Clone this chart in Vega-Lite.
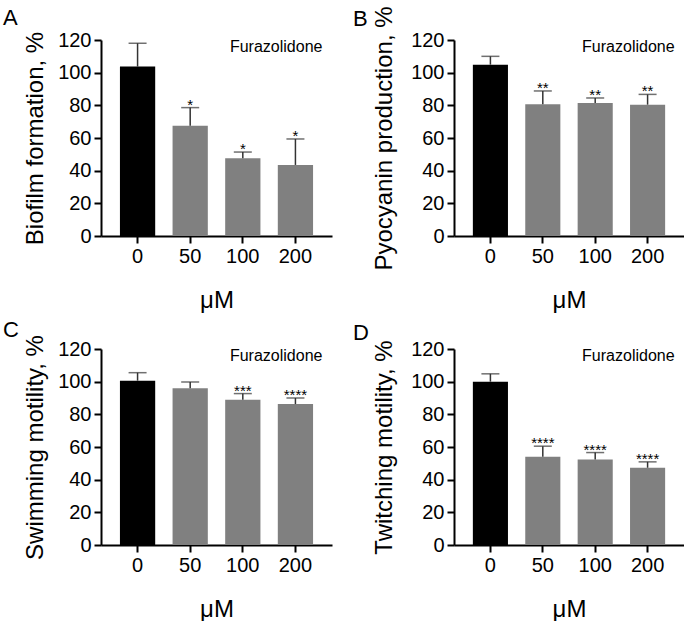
{
  "$schema": "https://vega.github.io/schema/vega-lite/v6.json",
  "background": "white",
  "padding": {"left": 3, "top": 5, "right": 0, "bottom": 0},
  "spacing": 6,
  "config": {
    "font": "Liberation Sans",
    "view": {"stroke": null},
    "axis": {
      "grid": false,
      "domainColor": "black",
      "domainWidth": 2,
      "tickColor": "black",
      "tickWidth": 2,
      "tickSize": 7,
      "labelFontSize": 20,
      "labelColor": "black",
      "labelPadding": 3,
      "labelOverlap": false,
      "titleFontSize": 24,
      "titleFontWeight": "normal",
      "titleColor": "black"
    },
    "axisX": {"titlePadding": 22, "labelAngle": 0},
    "axisY": {"titlePadding": 10, "tickCount": 10},
    "title": {"fontSize": 22, "fontWeight": "normal", "color": "black", "anchor": "start", "frame": "group"}
  },
  "data": {
    "values": [
      {"panel": "A", "dose": "0", "mean": 103.7, "upper": 118.0, "sig": ""},
      {"panel": "A", "dose": "50", "mean": 67.5, "upper": 78.6, "sig": "*"},
      {"panel": "A", "dose": "100", "mean": 47.6, "upper": 51.4, "sig": "*"},
      {"panel": "A", "dose": "200", "mean": 43.5, "upper": 59.4, "sig": "*"},
      {"panel": "B", "dose": "0", "mean": 104.9, "upper": 110.0, "sig": ""},
      {"panel": "B", "dose": "50", "mean": 80.6, "upper": 88.8, "sig": "**"},
      {"panel": "B", "dose": "100", "mean": 81.4, "upper": 84.5, "sig": "**"},
      {"panel": "B", "dose": "200", "mean": 80.4, "upper": 86.7, "sig": "**"},
      {"panel": "C", "dose": "0", "mean": 100.6, "upper": 105.5, "sig": ""},
      {"panel": "C", "dose": "50", "mean": 96.0, "upper": 99.8, "sig": ""},
      {"panel": "C", "dose": "100", "mean": 89.0, "upper": 92.7, "sig": "***"},
      {"panel": "C", "dose": "200", "mean": 86.3, "upper": 90.0, "sig": "****"},
      {"panel": "D", "dose": "0", "mean": 100.0, "upper": 104.8, "sig": ""},
      {"panel": "D", "dose": "50", "mean": 54.0, "upper": 60.5, "sig": "****"},
      {"panel": "D", "dose": "100", "mean": 52.4, "upper": 56.6, "sig": "****"},
      {"panel": "D", "dose": "200", "mean": 47.3, "upper": 50.9, "sig": "****"}
    ]
  },
  "vconcat": [
    {
      "spacing": 21,
      "hconcat": [
        {
          "width": 231, "height": 196,
          "title": {"text": "A", "dx": -98, "offset": 0},
          "transform": [{"filter": "datum.panel === 'A'"}],
          "encoding": {
            "x": {"field": "dose", "type": "ordinal", "sort": ["0", "50", "100", "200"], "scale": {"paddingInner": 0.33, "paddingOuter": 0.36}, "axis": {"title": "μM"}}
          },
          "layer": [
            {"mark": {"type": "bar"}, "encoding": {
              "y": {"field": "mean", "type": "quantitative", "scale": {"domain": [0, 120]}, "axis": {"title": "Biofilm formation, %", "values": [0, 20, 40, 60, 80, 100, 120]}},
              "color": {"field": "dose", "type": "nominal", "scale": {"domain": ["0", "50", "100", "200"], "range": ["#000000", "#808080", "#808080", "#808080"]}, "legend": null}}},
            {"mark": {"type": "rule", "color": "#333333", "strokeWidth": 1.5}, "encoding": {"y": {"field": "mean", "type": "quantitative"}, "y2": {"field": "upper"}}},
            {"mark": {"type": "tick", "orient": "horizontal", "size": 18, "thickness": 1.5, "color": "#333333"}, "encoding": {"y": {"field": "upper", "type": "quantitative"}}},
            {"mark": {"type": "text", "fontSize": 15, "baseline": "alphabetic", "dy": 2, "color": "black"}, "encoding": {"y": {"field": "upper", "type": "quantitative"}, "text": {"field": "sig"}}},
            {"transform": [{"filter": "datum.dose === '200'"}], "mark": {"type": "text", "fontSize": 16, "align": "right", "baseline": "top", "dx": 27, "dy": -1, "color": "black"}, "encoding": {"y": {"datum": 120, "type": "quantitative"}, "text": {"value": "Furazolidone"}}}
          ]
        },
        {
          "width": 230, "height": 196,
          "title": {"text": "B", "dx": -101, "offset": -25},
          "transform": [{"filter": "datum.panel === 'B'"}],
          "encoding": {
            "x": {"field": "dose", "type": "ordinal", "sort": ["0", "50", "100", "200"], "scale": {"paddingInner": 0.33, "paddingOuter": 0.36}, "axis": {"title": "μM"}}
          },
          "layer": [
            {"mark": {"type": "bar"}, "encoding": {
              "y": {"field": "mean", "type": "quantitative", "scale": {"domain": [0, 120]}, "axis": {"title": "Pyocyanin production, %", "titlePadding": 14, "values": [0, 20, 40, 60, 80, 100, 120]}},
              "color": {"field": "dose", "type": "nominal", "scale": {"domain": ["0", "50", "100", "200"], "range": ["#000000", "#808080", "#808080", "#808080"]}, "legend": null}}},
            {"mark": {"type": "rule", "color": "#333333", "strokeWidth": 1.5}, "encoding": {"y": {"field": "mean", "type": "quantitative"}, "y2": {"field": "upper"}}},
            {"mark": {"type": "tick", "orient": "horizontal", "size": 18, "thickness": 1.5, "color": "#333333"}, "encoding": {"y": {"field": "upper", "type": "quantitative"}}},
            {"mark": {"type": "text", "fontSize": 15, "baseline": "alphabetic", "dy": 2, "color": "black"}, "encoding": {"y": {"field": "upper", "type": "quantitative"}, "text": {"field": "sig"}}},
            {"transform": [{"filter": "datum.dose === '200'"}], "mark": {"type": "text", "fontSize": 16, "align": "right", "baseline": "top", "dx": 27, "dy": -1, "color": "black"}, "encoding": {"y": {"datum": 120, "type": "quantitative"}, "text": {"value": "Furazolidone"}}}
          ]
        }
      ]
    },
    {
      "spacing": 21,
      "hconcat": [
        {
          "width": 231, "height": 196,
          "title": {"text": "C", "dx": -98, "offset": -7},
          "transform": [{"filter": "datum.panel === 'C'"}],
          "encoding": {
            "x": {"field": "dose", "type": "ordinal", "sort": ["0", "50", "100", "200"], "scale": {"paddingInner": 0.33, "paddingOuter": 0.36}, "axis": {"title": "μM"}}
          },
          "layer": [
            {"mark": {"type": "bar"}, "encoding": {
              "y": {"field": "mean", "type": "quantitative", "scale": {"domain": [0, 120]}, "axis": {"title": "Swimming motility, %", "values": [0, 20, 40, 60, 80, 100, 120]}},
              "color": {"field": "dose", "type": "nominal", "scale": {"domain": ["0", "50", "100", "200"], "range": ["#000000", "#808080", "#808080", "#808080"]}, "legend": null}}},
            {"mark": {"type": "rule", "color": "#333333", "strokeWidth": 1.5}, "encoding": {"y": {"field": "mean", "type": "quantitative"}, "y2": {"field": "upper"}}},
            {"mark": {"type": "tick", "orient": "horizontal", "size": 18, "thickness": 1.5, "color": "#333333"}, "encoding": {"y": {"field": "upper", "type": "quantitative"}}},
            {"mark": {"type": "text", "fontSize": 15, "baseline": "alphabetic", "dy": 2, "color": "black"}, "encoding": {"y": {"field": "upper", "type": "quantitative"}, "text": {"field": "sig"}}},
            {"transform": [{"filter": "datum.dose === '200'"}], "mark": {"type": "text", "fontSize": 16, "align": "right", "baseline": "top", "dx": 27, "dy": -1, "color": "black"}, "encoding": {"y": {"datum": 120, "type": "quantitative"}, "text": {"value": "Furazolidone"}}}
          ]
        },
        {
          "width": 230, "height": 196,
          "title": {"text": "D", "dx": -101, "offset": -6},
          "transform": [{"filter": "datum.panel === 'D'"}],
          "encoding": {
            "x": {"field": "dose", "type": "ordinal", "sort": ["0", "50", "100", "200"], "scale": {"paddingInner": 0.33, "paddingOuter": 0.36}, "axis": {"title": "μM"}}
          },
          "layer": [
            {"mark": {"type": "bar"}, "encoding": {
              "y": {"field": "mean", "type": "quantitative", "scale": {"domain": [0, 120]}, "axis": {"title": "Twitching motility, %", "titlePadding": 14, "values": [0, 20, 40, 60, 80, 100, 120]}},
              "color": {"field": "dose", "type": "nominal", "scale": {"domain": ["0", "50", "100", "200"], "range": ["#000000", "#808080", "#808080", "#808080"]}, "legend": null}}},
            {"mark": {"type": "rule", "color": "#333333", "strokeWidth": 1.5}, "encoding": {"y": {"field": "mean", "type": "quantitative"}, "y2": {"field": "upper"}}},
            {"mark": {"type": "tick", "orient": "horizontal", "size": 18, "thickness": 1.5, "color": "#333333"}, "encoding": {"y": {"field": "upper", "type": "quantitative"}}},
            {"mark": {"type": "text", "fontSize": 15, "baseline": "alphabetic", "dy": 2, "color": "black"}, "encoding": {"y": {"field": "upper", "type": "quantitative"}, "text": {"field": "sig"}}},
            {"transform": [{"filter": "datum.dose === '200'"}], "mark": {"type": "text", "fontSize": 16, "align": "right", "baseline": "top", "dx": 27, "dy": -1, "color": "black"}, "encoding": {"y": {"datum": 120, "type": "quantitative"}, "text": {"value": "Furazolidone"}}}
          ]
        }
      ]
    }
  ]
}
